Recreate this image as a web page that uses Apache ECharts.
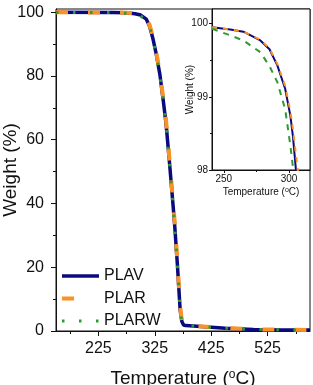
<!DOCTYPE html>
<html>
<head>
<meta charset="utf-8">
<title>TGA</title>
<script src="https://cdn.jsdelivr.net/npm/echarts@6/dist/echarts.min.js"></script>
</head>
<body style="margin:0">
<div id="main" style="width:313px;height:385px"></div>
<script>
// main plot
var temps = [150, 250, 275, 290, 300, 310, 316, 322, 328, 334, 340, 345, 350, 355, 360, 365, 370, 373, 376, 380, 400, 450, 500, 550, 600];
var plav  = [99.95, 99.93, 99.85, 99.5, 99.1, 97.8, 95.5, 91.5, 86.5, 80.5, 72.3, 65, 55, 44.5, 33.8, 21, 6.5, 3, 1.9, 1.7, 1.5, 0.9, 0.5, 0.35, 0.3];
var plar  = [99.95, 99.93, 99.86, 99.55, 99.15, 98.0, 95.9, 92, 87, 81, 73, 66, 56, 45.5, 35, 22, 7.5, 3.2, 2.0, 1.8, 1.55, 0.95, 0.55, 0.4, 0.3];
var plarw = [99.93, 99.86, 99.65, 99.25, 98.8, 97.4, 95.2, 91.2, 86.2, 80.3, 72, 64.8, 54.8, 44.3, 33.6, 20.8, 6.3, 3, 1.9, 1.7, 1.5, 0.9, 0.5, 0.35, 0.3];

// inset (zoom on onset)
var insetTemps = [241, 255, 265, 278, 285, 291, 297, 301, 303, 305, 307, 309];
var insetPlav  = [99.95, 99.92, 99.89, 99.77, 99.65, 99.43, 99.11, 98.74, 98.45, 98.05, 97.6, 97.1];
var insetPlar  = [99.95, 99.92, 99.89, 99.78, 99.66, 99.45, 99.15, 98.8, 98.55, 98.25, 97.95, 97.6];
var insetPlarw = [99.93, 99.84, 99.77, 99.61, 99.42, 99.2, 98.83, 98.33, 98.03, 97.7, 97.3, 96.9];

var xLabels = [225, 325, 425, 525];
var xMinor = [175, 275, 375, 475, 575];
var yLabels = [0, 20, 40, 60, 80, 100];
var yMinor = [10, 30, 50, 70, 90];
var insetXLabels = [250, 300];
var insetXMinor = [275];
var insetYLabels = [98, 99, 100];
var insetYMinor = [98.5, 99.5];

var NAVY = '#0a0a80', ORANGE = '#fb9222', GREEN = '#2f9a2f', INK = '#111';

function pairs(xs, ys) {
  var out = [];
  for (var i = 0; i < xs.length; i++) out.push([xs[i], ys[i]]);
  return out;
}

function axisX(grid, min, max, ticks, labels, len, size, margin, extra) {
  var a = {
    type: 'value', gridIndex: grid, min: min, max: max, position: 'bottom',
    splitLine: {show: false},
    nameMoveOverlap: false,
    axisLine: {show: !!labels, lineStyle: {color: INK, width: 1}},
    axisTick: {show: true, inside: false, length: len, customValues: ticks, lineStyle: {color: INK}},
    axisLabel: labels ? {customValues: labels, fontSize: size, color: INK, margin: margin} : {show: false}
  };
  for (var k in extra) a[k] = extra[k];
  return a;
}
function axisY(grid, min, max, ticks, labels, len, size, margin, extra) {
  var a = axisX(grid, min, max, ticks, labels, len, size, margin, extra);
  a.position = 'left';
  return a;
}

var noIcon = {color: 'rgba(0,0,0,0)', borderWidth: 0, opacity: 0};

var myChart = echarts.init(document.getElementById('main'));
var option = {
  animation: false,
  textStyle: {fontFamily: 'Liberation Sans, Arial, sans-serif'},
  grid: [
    {left: 56, right: 3, top: 9, bottom: 54, show: true, borderColor: INK, borderWidth: 1,
     containLabel: false, outerBoundsMode: 'none'},
    {left: 212, right: 3, top: 9, bottom: 215, show: true, borderColor: INK, borderWidth: 1, backgroundColor: '#fff',
     containLabel: false, outerBoundsMode: 'none'}
  ],
  legend: {
    orient: 'vertical', left: 60, top: 268, padding: 0,
    itemWidth: 37, itemHeight: 14, itemGap: 6.5,
    textStyle: {fontSize: 16, color: INK},
    data: [
      {name: 'PLAV', itemStyle: noIcon, lineStyle: {width: 3.5, color: NAVY, type: 'solid'}},
      {name: 'PLAR', itemStyle: noIcon, lineStyle: {width: 4, color: ORANGE, type: [12, 40]}},
      {name: 'PLARW', itemStyle: noIcon, lineStyle: {width: 3, color: GREEN, type: [2.5, 14.5]}}
    ]
  },
  xAxis: [
    axisX(0, 150, 600, xLabels, xLabels, 5, 16, 10, {
      name: 'Temperature ({sup|o}C)', nameLocation: 'middle', nameGap: 38,
      nameTextStyle: {fontSize: 19, color: INK, rich: {sup: {fontSize: 12, color: INK, verticalAlign: 'top'}}}
    }),
    axisX(0, 150, 600, xMinor, null, 3),
    axisX(1, 241, 316, insetXLabels, insetXLabels, 3, 10, 4, {
      name: 'Temperature ({sup|o}C)', nameLocation: 'middle', nameGap: 17,
      nameTextStyle: {fontSize: 10, color: INK, rich: {sup: {fontSize: 7, color: INK, verticalAlign: 'top'}}}
    }),
    axisX(1, 241, 316, insetXMinor, null, 2)
  ],
  yAxis: [
    axisY(0, 0, 101, yLabels, yLabels, 5, 16, 12, {
      name: 'Weight (%)', nameLocation: 'middle', nameGap: 36,
      nameTextStyle: {fontSize: 19, color: INK}
    }),
    axisY(0, 0, 101, yMinor, null, 3),
    axisY(1, 98, 100.2, insetYLabels, insetYLabels, 3, 10, 4, {
      name: 'Weight (%)', nameLocation: 'middle', nameGap: 17,
      nameTextStyle: {fontSize: 10, color: INK}
    }),
    axisY(1, 98, 100.2, insetYMinor, null, 2)
  ],
  series: [
    {name: 'PLAV', type: 'line', xAxisIndex: 0, yAxisIndex: 0, symbol: 'none',
     lineStyle: {color: NAVY, width: 3.5}, itemStyle: {color: NAVY}, data: pairs(temps, plav)},
    {name: 'PLAR', type: 'line', xAxisIndex: 0, yAxisIndex: 0, symbol: 'none',
     lineStyle: {color: ORANGE, width: 4, type: [12, 20]}, itemStyle: {color: ORANGE}, data: pairs(temps, plar)},
    {name: 'PLARW', type: 'line', xAxisIndex: 0, yAxisIndex: 0, symbol: 'none',
     lineStyle: {color: GREEN, width: 3, type: [2.5, 14.5]}, itemStyle: {color: GREEN}, data: pairs(temps, plarw)},
    {name: 'PLAV', type: 'line', xAxisIndex: 2, yAxisIndex: 2, symbol: 'none', z: 5,
     lineStyle: {color: NAVY, width: 2}, data: pairs(insetTemps, insetPlav)},
    {name: 'PLAR', type: 'line', xAxisIndex: 2, yAxisIndex: 2, symbol: 'none', z: 5,
     lineStyle: {color: ORANGE, width: 2, type: [5, 6]}, data: pairs(insetTemps, insetPlar)},
    {name: 'PLARW', type: 'line', xAxisIndex: 2, yAxisIndex: 2, symbol: 'none', z: 5,
     lineStyle: {color: GREEN, width: 2, type: [6, 6]}, data: pairs(insetTemps, insetPlarw)}
  ]
};
myChart.setOption(option);
</script>
</body>
</html>
